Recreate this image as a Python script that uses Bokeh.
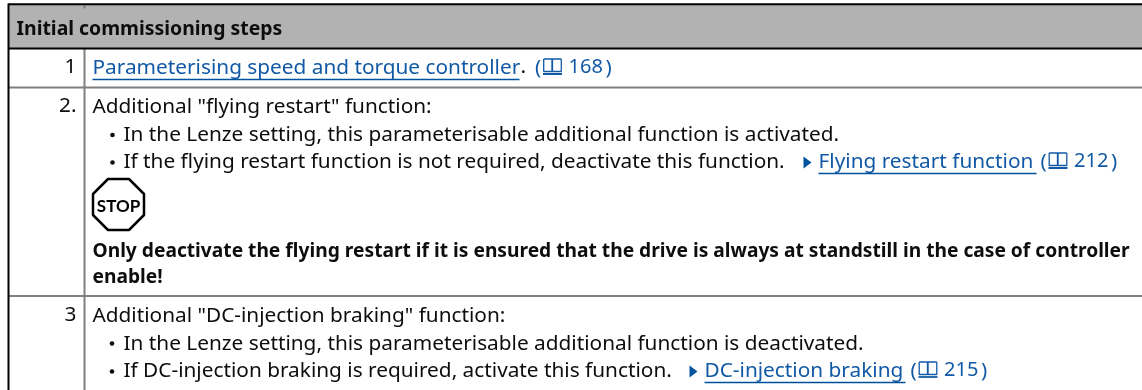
from bokeh.plotting import figure
from bokeh.embed import file_html
from bokeh.resources import INLINE
from bokeh.core.properties import value

W, H = 1142, 390
FONT = "Noto Sans"
INK = "#0d0d0d"
BLUE = "#1259a5"

title = "Initial commissioning steps"
row_numbers = ["1", "2.", "3"]
plain_text = [
    'Additional "flying restart" function:',
    'In the Lenze setting, this parameterisable additional function is activated.',
    'If the flying restart function is not required, deactivate this function.',
    'Additional "DC-injection braking" function:',
    'In the Lenze setting, this parameterisable additional function is deactivated.',
    'If DC-injection braking is required, activate this function.',
]
bold_text = [
    'Only deactivate the flying restart if it is ensured that the drive is always at standstill in the case of controller',
    'enable!',
]
link_text = ['Parameterising speed and torque controller', 'Flying restart function', 'DC-injection braking']
page_numbers = ["168", "212", "215"]

# layout (pixels)
row_number_y = [74, 113, 322]
plain_x = [92, 123, 123, 92, 123, 123]
plain_y = [113, 141, 168, 322, 350, 377]
bold_x = [92, 92]
bold_y = [257, 283]
link_x0 = [92, 818, 704]
link_x1 = [519, 1036, 905]
link_y = [74, 168, 377]
book_x = [542.5, 1048, 918]
bullet_x = [112, 112, 111.5, 111.5]
bullet_y = [134.5, 162, 343, 371]
arrow_x = [803, 689]
arrow_y = [162, 371]

p = figure(width=W, height=H, x_range=(0, W), y_range=(H, 0), output_backend="svg",
           toolbar_location=None, min_border=0, outline_line_color=None)
p.axis.visible = False
p.grid.visible = False
p.styles = {"position": "fixed", "left": "0", "top": "0"}

p.quad(left=[8], right=[W], top=[4], bottom=[48], fill_color="#b2b2b2", line_color=None)
p.segment([84, 84], [4, 48], [84, 84], [8, H], line_color="#808080", line_width=2)
p.segment([8, 8], [87, 295.5], [W, W], [87, 295.5], line_color="#808080", line_width=2)
p.segment([8, 8, 8], [3.7, 48, 3], [W, W, 8], [3.7, 48, H], line_color="black", line_width=2)

def txt(x, y, s, size, dy=-8.7, **kw):
    kw.setdefault("text_color", INK)
    p.text(x, [v + dy for v in y], text=s, text_font=value(kw.pop("font", FONT)), text_font_size=size,
           text_baseline="alphabetic", **kw)

txt([16], [35], [title], "19.4px", dy=-8, text_font_style="bold")
txt([76] * 3, row_number_y, row_numbers, "20.8px", text_align="right")
txt(plain_x, plain_y, plain_text, "20.8px")
txt(bold_x, bold_y, bold_text, "19.2px", dy=-8, text_font_style="bold")
txt(link_x0, link_y, link_text, "20.8px", text_color=BLUE)
p.segment(link_x0, [v + 5 for v in link_y], link_x1, [v + 5 for v in link_y], line_color="#00529f", line_width=1.6)
txt([520], [74], ["."], "20.8px")

# page references
txt([b - 8 for b in book_x], link_y, ["("] * 3, "20.8px", text_color=BLUE)
txt([b + 25.5 for b in book_x], link_y, page_numbers, "20px", dy=-8.3, text_color=BLUE)
txt([b + 62.5 for b in book_x], link_y, [")"] * 3, "20.8px", text_color=BLUE)
for bx, ly in zip(book_x, link_y):
    p.multi_line([[bx + 0.7, bx + 9, bx + 9, bx + 0.7, bx + 0.7], [bx + 18.3, bx + 9.5, bx + 9.5, bx + 18.3, bx + 18.3]],
                 [[ly - 15.5, ly - 15.5, ly - 3, ly - 3, ly - 15.5], [ly - 15.5, ly - 15.5, ly - 3, ly - 3, ly - 15.5]],
                 line_color=BLUE, line_width=1.3)
    p.line([bx, bx + 19], [ly - 0.5, ly - 0.5], line_color=BLUE, line_width=1.8)

# bullets and arrows
p.circle(bullet_x, bullet_y, radius=2.3, fill_color=INK, line_color=None)
for ax, ay in zip(arrow_x, arrow_y):
    p.patch([ax, ax + 8, ax], [ay - 6, ay, ay + 6], fill_color="#00529f", line_color=None)

# stop sign
sx, sy, r, c = 118, 204, 25.5, 15
p.patch([sx - r + c, sx + r - c, sx + r, sx + r, sx + r - c, sx - r + c, sx - r, sx - r],
        [sy - r, sy - r, sy - r + c, sy + r - c, sy + r, sy + r, sy + r - c, sy - r + c],
        fill_color="white", line_color="black", line_width=2.5)
txt([sx], [212], ["STOP"], "17px", dy=-7, font="Lato", text_font_style="bold",
    text_align="center", text_color="black")

open("out.html", "w").write(file_html(p, INLINE))
